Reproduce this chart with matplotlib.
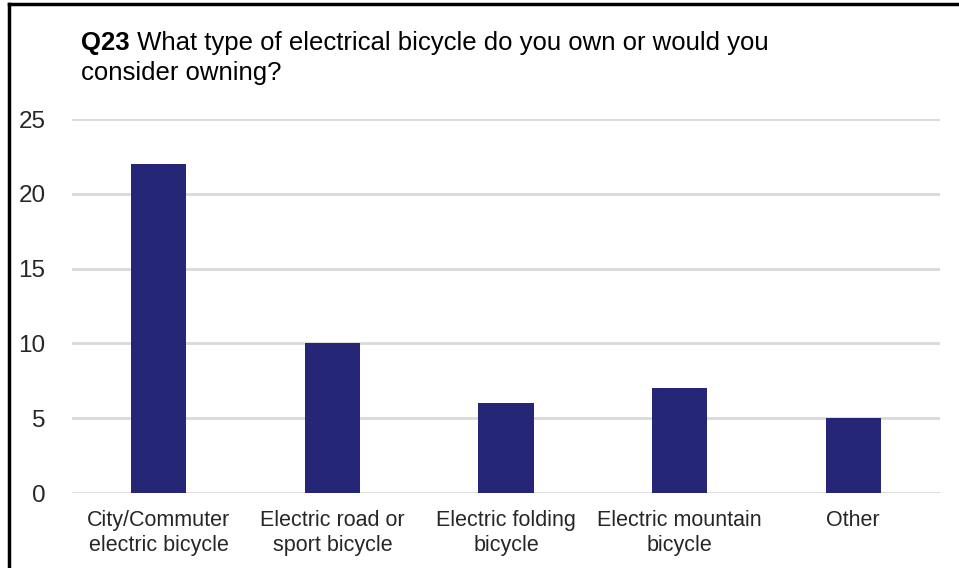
import matplotlib

matplotlib.use("Agg")
import matplotlib.pyplot as plt  # noqa: E402
from matplotlib.lines import Line2D  # noqa: E402

plt.rcParams["font.family"] = ["Liberation Sans", "DejaVu Sans"]

categories = [
    "City/Commuter\nelectric bicycle",
    "Electric road or\nsport bicycle",
    "Electric folding\nbicycle",
    "Electric mountain\nbicycle",
    "Other",
]
counts = [22, 10, 6, 7, 5]
y_ticks = [0, 5, 10, 15, 20, 25]

BAR = "#262676"
GRID = "#d9d9d9"
TXT = "#262626"

W, H = 959, 568
fig = plt.figure(figsize=(W / 100, H / 100), dpi=100)
ax = fig.add_axes([72 / W, 1 - 493 / H, 868 / W, 374 / H])

x = range(len(categories))
ax.bar(x, counts, width=0.317, color=BAR, zorder=3)
ax.set_xlim(-0.5, len(categories) - 0.5)
ax.set_ylim(0, 25)
ax.set_yticks(y_ticks)
ax.set_xticks(list(x))
ax.set_xticklabels(categories, fontsize=15.5, color=TXT, linespacing=1.25)
ax.tick_params(axis="y", labelsize=17.5, colors=TXT, length=0, pad=19)
ax.tick_params(axis="x", length=0, pad=12)
ax.grid(axis="y", color=GRID, linewidth=2, zorder=0)
for s in ax.spines.values():
    s.set_visible(False)

# title: bold "Q23" followed by regular text
TY1, TY2 = 1 - 50 / H, 1 - 80 / H
t1 = fig.text(81 / W, TY1, "Q23", fontsize=18.5, fontweight="bold",
              color="black", va="baseline")
fig.canvas.draw()
bb = t1.get_window_extent()
fig.text(bb.x1 / W, TY1,
         " What type of electrical bicycle do you own or would you",
         fontsize=18.5, color="black", va="baseline")
fig.text(81 / W, TY2, "consider owning?", fontsize=18.5,
         color="black", va="baseline")

# outer frame (left and top edges)
fig.add_artist(Line2D([9 / W, 9 / W], [0, 1 - 4 / H], transform=fig.transFigure,
                      color="black", linewidth=2.5))
fig.add_artist(Line2D([9 / W, 1], [1 - 4 / H, 1 - 4 / H], transform=fig.transFigure,
                      color="black", linewidth=2.5))

fig.savefig("out.png", dpi=100)
